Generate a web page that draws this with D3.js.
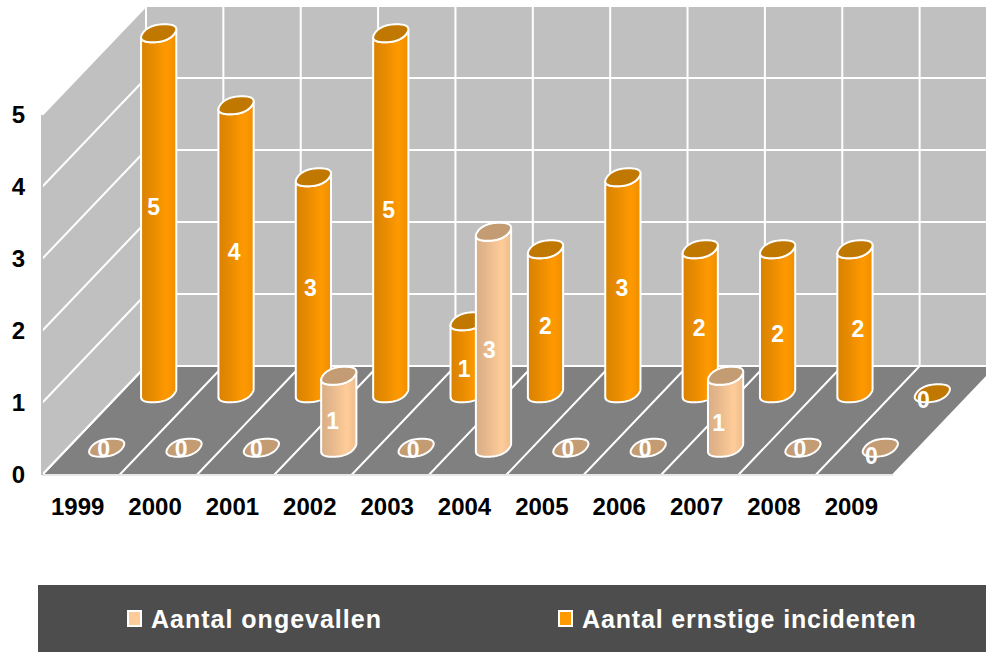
<!DOCTYPE html>
<html>
<head>
<meta charset="utf-8">
<script src="https://cdn.jsdelivr.net/npm/d3@7"></script>
<style>
  html, body { margin: 0; padding: 0; background: #fff; }
  svg { display: block; }
  text { font-family: "Liberation Sans", Arial, sans-serif; font-weight: bold; }
</style>
</head>
<body>
<script>
var years = ["1999", "2000", "2001", "2002", "2003", "2004", "2005", "2006", "2007", "2008", "2009"];
var ongevallen = [0, 0, 0, 1, 0, 3, 0, 0, 1, 0, 0];
var incidenten = [5, 4, 3, 5, 1, 2, 3, 2, 2, 2, 0];
var yTicks = [0, 1, 2, 3, 4, 5];
var legendLabels = ["Aantal ongevallen", "Aantal ernstige incidenten"];

var svgWidth = 986;
var svgHeight = 652;

var svg = d3.select("body")
    .append("svg")
    .attr("width", svgWidth)
    .attr("height", svgHeight);

// x runs over the categories, y over the values, depth from front (0) to back (1)
var xScale = d3.scaleLinear().domain([0, years.length]).range([42, 893]);
var yScale = d3.scaleLinear().domain([0, 5]).range([475, 115]);
var depthX = d3.scaleLinear().domain([0, 1]).range([0, 104]);
var depthY = d3.scaleLinear().domain([0, 1]).range([0, -109]);

function project(cat, value, depth) {
    return [xScale(cat) + depthX(depth), yScale(value) + depthY(depth)];
}

var polyLine = d3.line();

function poly(points) {
    return polyLine(points) + "Z";
}

var defs = svg.append("defs");

function addGradient(id, stops) {
    var g = defs.append("linearGradient").attr("id", id);
    stops.forEach(function (s) {
        g.append("stop").attr("offset", s[0]).attr("stop-color", s[1]);
    });
}

addGradient("orangeBody", [[0, "#d98200"], [0.3, "#e68a00"], [0.72, "#ff9900"], [1, "#ee8f00"]]);
addGradient("peachBody", [[0, "#d9ae86"], [0.3, "#e6b88c"], [0.72, "#ffcc99"], [1, "#eebd8e"]]);

// walls and floor
svg.append("path").attr("fill", "#c0c0c0")
    .attr("d", poly([project(0, 0, 0), project(0, 0, 1), project(0, 5, 1), project(0, 5, 0)]));
svg.append("path").attr("fill", "#c0c0c0")
    .attr("d", poly([project(0, 0, 1), project(years.length, 0, 1), project(years.length, 5, 1), project(0, 5, 1)]));
svg.append("path").attr("fill", "#808080")
    .attr("d", poly([project(0, 0, 0), project(years.length, 0, 0), project(years.length, 0, 1), project(0, 0, 1)]));

var grid = svg.append("g")
    .attr("stroke", "#fff")
    .attr("stroke-width", 2)
    .attr("fill", "none");

yTicks.forEach(function (v) {
    grid.append("path").attr("d", polyLine([project(0, v, 0), project(0, v, 1), project(years.length, v, 1)]));
});

d3.range(years.length + 1).forEach(function (i) {
    grid.append("path").attr("d", polyLine([project(i, 0, 0), project(i, 0, 1), project(i, 5, 1)]));
});

grid.append("path")
    .attr("stroke", "#e8e8e8")
    .attr("d", polyLine([project(0, 0, 0), project(years.length, 0, 0)]));

// left wall edge stays unlined, only the ticks run over it
svg.append("path").attr("stroke", "#c0c0c0").attr("stroke-width", 2)
    .attr("d", polyLine([project(0, 0, 0), project(0, 5, 0)]));

// cylinder foot print, a squared off ellipse leaning to the upper right
var halfU = 16;
var halfVx = 6;
var halfVy = 9;
var squareness = 0.85;

function rimPoint(c, t) {
    var ct = Math.cos(t);
    var st = Math.sin(t);
    var a = Math.sign(ct) * Math.pow(Math.abs(ct), squareness);
    var b = Math.sign(st) * Math.pow(Math.abs(st), squareness);
    return [c[0] + a * halfU + b * halfVx, c[1] - b * halfVy];
}

// where the outline is widest, the cylinder sides start there
var turn = d3.range(0, 1.57, 0.01)[d3.greatestIndex(d3.range(0, 1.57, 0.01), function (t) {
    return rimPoint([0, 0], t)[0];
})];

function rim(c, from, to) {
    return d3.range(0, 61).map(function (k) {
        return rimPoint(c, from + (to - from) * k / 60);
    });
}

function drawSeries(values, depth, bodyFill, topFill, labelShift) {
    var bars = svg.append("g");

    bars.selectAll("g")
        .data(values)
        .enter()
        .append("g")
        .each(function (d, i) {
            var bar = d3.select(this);
            var base = project(i + 0.5, 0, depth);
            var top = project(i + 0.5, d, depth);

            if (d > 0) {
                var front = rim(base, turn + Math.PI, turn + 2 * Math.PI);
                var frontTop = rim(top, turn + 2 * Math.PI, turn + Math.PI);
                bar.append("path")
                    .attr("d", poly(front.concat(frontTop)))
                    .attr("fill", "url(#" + bodyFill + ")")
                    .attr("stroke", "#fff")
                    .attr("stroke-width", 2)
                    .attr("stroke-linejoin", "round");
            }

            bar.append("path")
                .attr("d", poly(rim(top, 0, 2 * Math.PI)))
                .attr("fill", topFill)
                .attr("stroke", "#fff")
                .attr("stroke-width", 2);

            bar.append("text")
                .attr("x", (base[0] + top[0]) / 2 + labelShift[i][0])
                .attr("y", (base[1] + top[1]) / 2 + labelShift[i][1])
                .attr("dy", "0.35em")
                .attr("text-anchor", "middle")
                .attr("font-size", 23)
                .attr("fill", "#fff")
                .text(d);
        });
}

// the labels do not sit quite in the middle of their bars, nudge each one
var incidentenShift = [[-5, -6], [-2, 3], [-3, 3], [-2, -3], [-4, 12], [0, 5], [-1, 3], [-1, 7], [0, 13], [3, 8], [-9, 7]];
var ongevallenShift = [[-3, 1], [-3, 1], [-5, 1], [-6, 9], [-3, 2], [-4, 10], [-3, 1], [-3, 1], [-7, 11], [-3, 1], [-9, 8]];

drawSeries(incidenten, 0.75, "orangeBody", "#c07800", incidentenShift);
drawSeries(ongevallen, 0.25, "peachBody", "#c49c74", ongevallenShift);

// axes
var yAxis = d3.axisLeft(yScale).tickValues(yTicks).tickSize(0).tickFormat(d3.format("d"));
var yAxisGroup = svg.append("g")
    .attr("transform", "translate(28, 0)")
    .call(yAxis);
yAxisGroup.select(".domain").remove();
yAxisGroup.selectAll("text")
    .attr("font-size", 24)
    .attr("fill", "#000")
    .attr("font-family", "Liberation Sans");

var xBand = d3.scaleBand().domain(years).range([xScale(0) - 3, xScale(years.length) - 3]);
var xAxis = d3.axisBottom(xBand).tickSize(0);
var xAxisGroup = svg.append("g")
    .attr("transform", "translate(0, 495)")
    .call(xAxis);
xAxisGroup.select(".domain").remove();
xAxisGroup.selectAll("text")
    .attr("font-size", 24)
    .attr("fill", "#000")
    .attr("font-family", "Liberation Sans");

// legend
var legend = svg.append("g");
legend.append("rect")
    .attr("x", 38)
    .attr("y", 585)
    .attr("width", 948)
    .attr("height", 67)
    .attr("fill", "#4d4d4d");

var legendX = d3.scaleOrdinal().domain(legendLabels).range([127, 558]);
var legendFill = d3.scaleOrdinal().domain(legendLabels).range(["#ffcc99", "#ff9900"]);
var legendSpacing = d3.scaleOrdinal().domain(legendLabels).range([1, 0.85]);

legend.selectAll("rect.swatch")
    .data(legendLabels)
    .enter()
    .append("rect")
    .attr("class", "swatch")
    .attr("x", d => legendX(d) + 1)
    .attr("y", 611)
    .attr("width", 13)
    .attr("height", 15)
    .attr("fill", d => legendFill(d))
    .attr("stroke", "#fff")
    .attr("stroke-width", 2);

legend.selectAll("text")
    .data(legendLabels)
    .enter()
    .append("text")
    .attr("x", d => legendX(d) + 24)
    .attr("y", 628)
    .attr("font-size", 25)
    .attr("letter-spacing", d => legendSpacing(d))
    .attr("fill", "#fff")
    .text(d => d);
</script>
</body>
</html>
